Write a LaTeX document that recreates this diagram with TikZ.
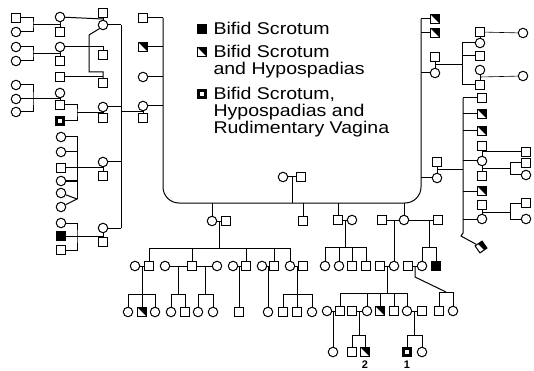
\documentclass[tikz,border=0pt]{standalone}
\usepackage{fontspec}
\setmainfont{Liberation Sans}
\newfontfamily\keyfont[FakeStretch=1.15]{Liberation Sans}
\begin{document}
\begin{tikzpicture}[x=1pt, y=-1pt, line width=1pt,
  sq/.style={draw, rectangle, minimum size=8.5pt, inner sep=0pt, fill=white},
  ci/.style={draw, circle, minimum size=9.5pt, inner sep=0pt, fill=white},
  bsq/.style={sq, fill=black},
  hsq/.style={sq, path picture={\fill[black] (path picture bounding box.north west) -- (path picture bounding box.north east) -- (path picture bounding box.south east) -- cycle;}},
  rsq/.style={sq, fill=black, path picture={\fill[white] ([xshift=-1.7pt,yshift=-1.7pt]path picture bounding box.center) rectangle ([xshift=1.7pt,yshift=1.7pt]path picture bounding box.center);}},
  key/.style={anchor=north west, align=left, inner sep=0pt, font=\keyfont\fontsize{17}{17}\selectfont},
  num/.style={inner sep=0pt, font=\bfseries\fontsize{11}{11}\selectfont}
]
\useasboundingbox (0,0) rectangle (534,371);

% founders and their sibship line
\node[ci] (fo1) at (283,177) {};
\node[sq] (fo2) at (301,177) {};
\coordinate (fom) at (292,177);
\coordinate (fl) at (163,18);
\coordinate (fbl) at (163,203);
\coordinate (fbr) at (421,203);
\coordinate (fr) at (421,19);
\draw (fo1) -- (fo2);
\draw (fom) -- (fom |- fbl);
\draw[rounded corners=16pt] (fl) -- (fbl) -- (fbr) -- (fr);

% legend
\node[bsq] (lg1) at (202,29) {};
\node[hsq] (lg2) at (202,52) {};
\node[rsq] (lg3) at (202,94) {};
\node[key] (lt1) at (213,22) {Bifid Scrotum};
\node[key] (lt2) at (213,45) {Bifid Scrotum\\and Hypospadias};
\node[key] (lt3) at (213,87) {Bifid Scrotum,\\Hypospadias and\\Rudimentary Vagina};

% left edge
\node[sq] (a1) at (143,18) {};
\node[hsq] (a2) at (143,47) {};
\node[ci] (a3) at (143,77) {};
\node[ci] (a4) at (143,106) {};
\node[sq] (a4s) at (143,118) {};
\foreach \n in {a1,a2,a3,a4} \draw (\n) -- (\n -| fl);
\draw (a4) -- (a4s);
\coordinate (a4m) at (143,112);
\coordinate (gt) at (121,25);
\coordinate (gb) at (121,228);
\draw (gt) -- (gb);
\draw (a4m) -- (a4m -| gt);

\node[sq] (b1s) at (103,13) {};
\node[ci] (b1) at (103,25) {};
\node[ci] (b2) at (103,107) {};
\node[sq] (b2s) at (103,118) {};
\node[ci] (b3) at (103,162) {};
\node[sq] (b3s) at (103,176) {};
\node[ci] (b4) at (103,228) {};
\node[sq] (b4s) at (103,242) {};
\foreach \n in {b1,b2,b3,b4} \draw (\n) -- (\n -| gt);
\draw (b1s) -- (b1) (b2) -- (b2s) (b3) -- (b3s) (b4) -- (b4s);

% b1 family
\coordinate (b1m) at (103,19);
\node[ci] (c1) at (60,17) {};
\node[sq] (c1s) at (60,32) {};
\node[ci] (c2) at (60,47) {};
\node[sq] (c2s) at (60,61) {};
\node[sq] (c3) at (60,77) {};
\node[sq] (c4) at (103,83) {};
\node[sq] (c5) at (103,55) {};
\coordinate (e1) at (89,35);
\coordinate (e2) at (89,72);
\draw (c1) -- (b1m);
\draw (b1.225) -- (e1) -- (e2) -| (c4);
\draw (c3) -- (c3 -| c4);
\draw (c2) -| (c5);
\draw (c1) -- (c1s) (c2) -- (c2s);
\node[sq] (d1) at (16,18) {};
\node[ci] (d2) at (16,32) {};
\node[ci] (d3) at (16,47) {};
\node[ci] (d4) at (16,61) {};
\coordinate (d12) at (33,25);
\coordinate (d34) at (33,54);
\draw (d1) -| (d12) |- (d2);
\draw (d3) -| (d34) |- (d4);
\draw (d12) -- (d12 -| c1);
\draw (d34) -- (d34 -| c2);

% b2 family
\node[ci] (c6w) at (60,93) {};
\node[sq] (c6) at (60,105) {};
\node[rsq] (c7) at (60,121) {};
\coordinate (c67) at (77,113);
\draw (c6) -| (c67) |- (c7);
\draw (c67) -- (c67 -| b2);
\draw (c6w) -- (c6);
\node[ci] (d5) at (16,85) {};
\node[ci] (d6) at (16,99) {};
\node[ci] (d7) at (16,112) {};
\coordinate (d57) at (33,99);
\draw (d5) -| (d57) |- (d7);
\draw (d6) -- (d6 -| c6);

% b3 family
\node[ci] (g1) at (61,137) {};
\node[ci] (g2) at (61,152) {};
\node[sq] (g3) at (61,168) {};
\node[ci] (g4) at (61,181) {};
\node[ci] (g5) at (61,193) {};
\node[ci] (g6) at (61,207) {};
\coordinate (g56) at (77,199);
\coordinate (g0) at (77,168);
\draw (g1) -| (g56);
\foreach \n in {g2,g3,g4} \draw (\n) -- (\n -| g56);
\draw (g5) -- (g56) -- (g6);
\draw (g0) -- (g0 -| b3);

% b4 family
\node[ci] (k1) at (61,223) {};
\node[bsq] (k2) at (61,236) {};
\node[sq] (k3) at (61,250) {};
\coordinate (k0) at (77,236);
\draw (k1) -| (k0) |- (k3);
\draw (k2) -- (k2 -| b4);

% right edge
\node[hsq] (r1) at (435,19) {};
\node[hsq] (r2) at (435,33) {};
\node[sq] (r3s) at (435,57) {};
\node[ci] (r3) at (435,73) {};
\node[sq] (r4s) at (437,162) {};
\node[ci] (r4) at (437,178) {};
\foreach \n in {r1,r2,r3,r4} \draw (\n) -- (\n -| fr);
\draw (r3s) -- (r3) (r4s) -- (r4);

% r3 family
\coordinate (r3m) at (435,65);
\coordinate (t1) at (462,43);
\coordinate (t2) at (462,85);
\draw (t1) -- (t2);
\draw (r3m) -- (r3m -| t1);
\node[sq] (u1s) at (480,32) {};
\node[ci] (u1) at (480,43) {};
\node[ci] (u1x) at (523,33) {};
\node[sq] (u2) at (480,56) {};
\node[ci] (u3) at (480,70) {};
\node[sq] (u3s) at (480,85) {};
\node[ci] (u3x) at (523,76) {};
\coordinate (u3m) at (480,77);
\foreach \n in {u1,u2,u3s} \draw (\n) -- (\n -| t1);
\draw (u1s) -- (u1) (u3) -- (u3s);
\draw[line width=0.6pt] (u1s) -- (u1x);
\draw[line width=0.6pt] (u3m) -- (u3x);

% r4 family
\coordinate (r4m) at (437,170);
\coordinate (v1) at (463,98);
\coordinate (v2) at (463,233);
\coordinate (v3) at (461,236);
\node[sq] (w1) at (482,98) {};
\node[hsq] (w2) at (482,114) {};
\node[hsq] (w3) at (482,131) {};
\node[sq] (w4a) at (482,146) {};
\node[ci] (w4) at (482,161) {};
\node[sq] (w4b) at (482,176) {};
\node[hsq] (w5) at (482,191) {};
\node[sq] (w6s) at (482,205) {};
\node[ci] (w6) at (482,219) {};
\node[hsq, rotate=35] (w9) at (481,247) {};
\draw (r4m) -- (r4m -| v1);
\draw (v1) -- (v2) -- (v3) -- (w9);
\foreach \n in {w1,w2,w3,w4,w5,w6} \draw (\n) -- (\n -| v1);
\draw (w4a) -- (w4) -- (w4b) (w6s) -- (w6);
\coordinate (w4m1) at (482,152);
\coordinate (w4m2) at (482,169);
\coordinate (w6m) at (482,212);
\node[sq] (x1) at (526,152) {};
\node[sq] (x2) at (526,163) {};
\node[ci] (x3) at (526,175) {};
\node[sq] (x4) at (526,203) {};
\node[ci] (x5) at (526,219) {};
\coordinate (x23) at (510,169);
\coordinate (x45) at (510,212);
\draw (w4m1) -- (x1);
\draw (x2) -| (x23) |- (x3);
\draw (w4m2) -- (x23);
\draw (x4) -| (x45) |- (x5);
\draw (w6m) -- (x45);

% bottom edge
\node[ci] (p1) at (212,221) {};
\node[sq] (p1s) at (226,221) {};
\node[sq] (p2) at (303,221) {};
\node[sq] (p3) at (338,220) {};
\node[ci] (p3w) at (352,220) {};
\node[sq] (p4a) at (382,220) {};
\node[ci] (p4) at (404,220) {};
\node[sq] (p4b) at (438,220) {};
\foreach \n in {p1,p2,p3,p4} \draw (\n) -- (\n |- fbl);
\draw (p1) -- (p1s) (p3) -- (p3w) (p4a) -- (p4) -- (p4b);

% p1 family
\coordinate (p1m) at (219,221);
\coordinate (ql) at (149,248);
\coordinate (qr) at (290,248);
\draw (p1m) -- (p1m |- ql);
\draw (ql) -- (qr);
\node[ci] (q1w) at (135,266) {};
\node[sq] (q1) at (149,266) {};
\node[ci] (q2w) at (165,266) {};
\node[sq] (q2) at (192,266) {};
\node[ci] (q2v) at (217,266) {};
\node[ci] (q3w) at (233,266) {};
\node[sq] (q3) at (246,266) {};
\node[ci] (q4w) at (262,266) {};
\node[sq] (q4) at (274,266) {};
\node[ci] (q5) at (290,266) {};
\node[sq] (q5h) at (303,266) {};
\foreach \n in {q1,q2,q3,q4,q5} \draw (\n) -- (\n |- ql);
\draw (q1w) -- (q1) (q2w) -- (q2) -- (q2v) (q3w) -- (q3) (q4w) -- (q4) (q5) -- (q5h);

\coordinate (q1m) at (142,266);
\coordinate (q2m) at (178,266);
\coordinate (q2n) at (205,266);
\coordinate (q3m) at (239,266);
\coordinate (q4m) at (268,266);
\coordinate (q5m) at (297,266);
\coordinate (y1l) at (128,294);
\coordinate (y1r) at (155,294);
\coordinate (y2l) at (171,294);
\coordinate (y2r) at (185,294);
\coordinate (y3l) at (198,294);
\coordinate (y3r) at (213,294);
\coordinate (y5l) at (283,294);
\coordinate (y5r) at (312,294);
\node[ci] (z1) at (128,312) {};
\node[hsq] (z2) at (142,312) {};
\node[ci] (z3) at (155,312) {};
\node[ci] (z4) at (171,312) {};
\node[sq] (z5) at (185,312) {};
\node[ci] (z6) at (198,312) {};
\node[ci] (z7) at (213,312) {};
\node[sq] (z8) at (239,312) {};
\node[ci] (z9) at (268,312) {};
\node[sq] (z10) at (283,312) {};
\node[sq] (z11) at (297,312) {};
\node[ci] (z12) at (312,312) {};
\draw (y1l) -- (y1r) (y2l) -- (y2r) (y3l) -- (y3r) (y5l) -- (y5r);
\draw (q1m) -- (q1m |- y1l) (q2m) -- (q2m |- y1l) (q2n) -- (q2n |- y1l) (q5m) -- (q5m |- y1l);
\draw (q3m) -- (z8) (q4m) -- (z9);
\foreach \n in {z1,z2,z3,z4,z5,z6,z7,z10,z11,z12} \draw (\n) -- (\n |- y1l);

% p3 family
\coordinate (p3m) at (345,220);
\coordinate (hl) at (325,247);
\coordinate (hr) at (366,247);
\draw (p3m) -- (p3m |- hl);
\draw (hl) -- (hr);
\node[ci] (h1) at (325,266) {};
\node[ci] (h2) at (339,266) {};
\node[sq] (h3) at (352,266) {};
\node[sq] (h4) at (366,266) {};
\foreach \n in {h1,h2,h3,h4} \draw (\n) -- (\n |- hl);

% p4 families
\coordinate (p4am) at (394,220);
\coordinate (p4bm) at (429,220);
\node[sq] (s1h) at (380,266) {};
\node[ci] (s1) at (394,266) {};
\node[sq] (s2h) at (408,266) {};
\node[ci] (s2) at (422,266) {};
\node[bsq] (s3) at (436,266) {};
\coordinate (sl) at (422,247);
\coordinate (sr) at (436,247);
\draw (p4am) -- (s1);
\draw (p4bm) -- (p4bm |- sl);
\draw (sl) -- (sr);
\draw (s2) -- (s2 |- sl) (s3) -- (s3 |- sl);
\draw (s1h) -- (s1) (s2h) -- (s2);

\coordinate (s1m) at (387,266);
\coordinate (ol) at (340,293);
\coordinate (or) at (407,293);
\draw (s1m) -- (s1m |- ol);
\draw (ol) -- (or);
\node[ci] (o1w) at (327,311) {};
\node[sq] (o1) at (340,311) {};
\node[sq] (o2h) at (352,311) {};
\node[ci] (o2) at (367,311) {};
\node[hsq] (o3) at (380,311) {};
\node[sq] (o4) at (394,311) {};
\node[ci] (o5) at (407,311) {};
\node[sq] (o5h) at (422,311) {};
\foreach \n in {o1,o2,o3,o4,o5} \draw (\n) -- (\n |- ol);
\draw (o1w) -- (o1) (o2h) -- (o2) (o5) -- (o5h);

\coordinate (o1m) at (333,311);
\coordinate (o2m) at (359,311);
\coordinate (o5m) at (414,311);
\node[ci] (n1) at (333,352) {};
\node[sq] (n2) at (352,352) {};
\node[hsq] (n3) at (365,352) {};
\node[rsq] (n4) at (407,352) {};
\node[ci] (n5) at (422,352) {};
\coordinate (nl) at (352,335);
\coordinate (nr) at (365,335);
\coordinate (ml) at (407,335);
\coordinate (mr) at (422,335);
\draw (o1m) -- (n1);
\draw (o2m) -- (o2m |- nl) (nl) -- (nr) (n2) -- (nl) (n3) -- (nr);
\draw (o5m) -- (o5m |- ml) (ml) -- (mr) (n4) -- (ml) (n5) -- (mr);
\node[num] (lb2) at (365,365) {2};
\node[num] (lb1) at (407,365) {1};

\coordinate (s2m) at (415,266);
\coordinate (s2k) at (415,277);
\coordinate (jl) at (439,292);
\coordinate (jr) at (453,292);
\node[sq] (j1) at (439,311) {};
\node[ci] (j2) at (453,311) {};
\draw (s2m) -- (s2k) -- (446,292);
\draw (jl) -- (jr) (j1) -- (jl) (j2) -- (jr);
\end{tikzpicture}
\end{document}
